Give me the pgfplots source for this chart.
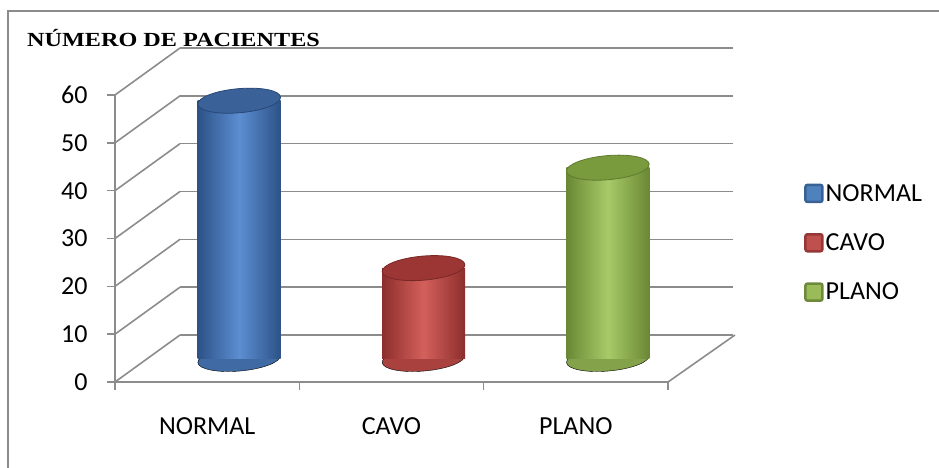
\documentclass[border=0pt]{standalone}
\usepackage{pgfplots}
\pgfplotsset{compat=1.18}
\usepackage{fontspec}
\setmainfont{Carlito}
\newfontfamily\titlefont{Liberation Serif}
\definecolor{gridc}{RGB}{140,140,140}
\definecolor{bd}{RGB}{44,82,134}
\definecolor{bl}{RGB}{92,142,210}
\definecolor{bt}{RGB}{58,98,152}
\definecolor{btd}{RGB}{40,72,118}
\definecolor{rd}{RGB}{140,46,44}
\definecolor{rl}{RGB}{212,96,92}
\definecolor{rt}{RGB}{156,54,52}
\definecolor{rtd}{RGB}{120,40,38}
\definecolor{gd}{RGB}{106,136,52}
\definecolor{gl}{RGB}{168,202,104}
\definecolor{gt}{RGB}{122,154,62}
\definecolor{gtd}{RGB}{96,122,46}
\definecolor{lb}{RGB}{79,129,189}
\definecolor{lbd}{RGB}{56,98,150}
\definecolor{lr}{RGB}{192,80,77}
\definecolor{lrd}{RGB}{150,56,54}
\definecolor{lg}{RGB}{155,187,89}
\definecolor{lgd}{RGB}{110,136,60}
\pgfplotsset{cyl/.style={at={(32pt,23pt)}, anchor=south west, scale only axis,
  width=553pt, height=287pt, xmin=-0.5, xmax=2.5, ymin=0, ymax=60,
  hide axis, clip=false}}
\begin{document}
\begin{tikzpicture}[x=1pt,y=1pt]
\path[use as bounding box] (-115,-86) rectangle (824,382);
\draw[gridc, line width=1.8pt] (-107,-95) -- (-107,371) -- (830,371);
\node[anchor=base west, inner sep=0pt, font=\titlefont\bfseries\fontsize{20}{24}\selectfont] at (-88,335) {\scalebox{1.21}[1]{NÚMERO DE PACIENTES}};

% back wall
\begin{axis}[at={(65pt,47pt)}, anchor=south west, scale only axis,
  width=553pt, height=287pt, xmin=-0.5, xmax=2.5, ymin=0, ymax=60,
  ytick={0,10,...,60}, xtick=\empty, yticklabels={},
  ymajorgrids, grid style={gridc, line width=1.6pt},
  axis line style={draw=none}, major tick length=0pt]
\addplot[draw=none, forget plot] coordinates {(0,0)};
\end{axis}

% front axes
\begin{axis}[at={(0pt,0pt)}, anchor=south west, scale only axis,
  width=553pt, height=287pt, xmin=-0.5, xmax=2.5, ymin=0, ymax=60,
  axis lines*=left, axis line style={gridc, line width=1.6pt},
  tick style={gridc, line width=1.6pt}, tick align=outside, major tick length=8pt,
  ytick={0,10,...,60},
  xtick={-0.5,0.5,1.5,2.5}, xticklabels={},
  extra x ticks={0,1,2}, extra x tick labels={NORMAL,CAVO,PLANO},
  extra x tick style={tick style={draw=none}, xticklabel style={yshift=-24pt}},
  tick label style={font=\fontsize{26}{31}\selectfont, text=black},
  yticklabel style={xshift=-16pt},
  /pgf/number format/assume math mode=true,
  clip=false,
  legend style={at={(1.2405,0.7038)}, anchor=north west, draw=none, fill=none,
    row sep=27pt, nodes={inner sep=2pt}, font=\fontsize{26}{31}\selectfont},
  legend cell align=left]
\addplot[draw=none, forget plot] coordinates {(0,0)};
\pgfplotsinvokeforeach{0,10,20,30,40,50,60}{
  \draw[gridc, line width=1.6pt] (axis cs:-0.5,#1) -- ++(65pt,47pt);
}
\draw[gridc, line width=1.6pt] (axis cs:2.5,0) -- ++(67pt,47pt);
\addlegendimage{legend image code/.code={\draw[fill=lb, draw=lbd, line width=2.5pt, rounded corners=2pt] (1pt,-8.5pt) rectangle (18pt,8.5pt);}}
\addlegendentry{NORMAL}
\addlegendimage{legend image code/.code={\draw[fill=lr, draw=lrd, line width=2.5pt, rounded corners=2pt] (1pt,-8.5pt) rectangle (18pt,8.5pt);}}
\addlegendentry{CAVO}
\addlegendimage{legend image code/.code={\draw[fill=lg, draw=lgd, line width=2.5pt, rounded corners=2pt] (1pt,-8.5pt) rectangle (18pt,8.5pt);}}
\addlegendentry{PLANO}
\end{axis}

% cylinder bottoms
\begin{axis}[cyl]
\addplot[only marks, mark=*, mark size=41.5pt, mark options={rotate=5, yscale=0.29, fill=bd!60!bl, draw=none}] coordinates {(0,0)};
\addplot[only marks, mark=*, mark size=41.5pt, mark options={rotate=5, yscale=0.29, fill=rd!60!rl, draw=none}] coordinates {(1,0)};
\addplot[only marks, mark=*, mark size=41.5pt, mark options={rotate=5, yscale=0.29, fill=gd!60!gl, draw=none}] coordinates {(2,0)};
\end{axis}

% cylinder bodies and tops
\begin{axis}[cyl]
\addplot[ybar, bar width=83pt, bar shift=0pt, draw=none, left color=bd, right color=bd, middle color=bl] coordinates {(0,54)};
\addplot[only marks, mark=*, mark size=41.5pt, mark options={rotate=5, yscale=0.29, fill=bt, draw=btd, line width=0.8pt}] coordinates {(0,54)};
\addplot[ybar, bar width=83pt, bar shift=0pt, draw=none, left color=rd, right color=rd, middle color=rl] coordinates {(1,19)};
\addplot[only marks, mark=*, mark size=41.5pt, mark options={rotate=5, yscale=0.29, fill=rt, draw=rtd, line width=0.8pt}] coordinates {(1,19)};
\addplot[ybar, bar width=83pt, bar shift=0pt, draw=none, left color=gd, right color=gd, middle color=gl] coordinates {(2,40)};
\addplot[only marks, mark=*, mark size=41.5pt, mark options={rotate=5, yscale=0.29, fill=gt, draw=gtd, line width=0.8pt}] coordinates {(2,40)};
\end{axis}
\end{tikzpicture}
\end{document}
